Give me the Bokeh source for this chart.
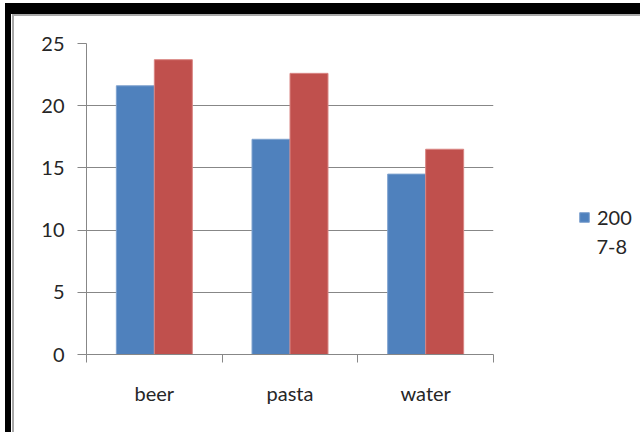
from bokeh.plotting import figure
from bokeh.models import FixedTicker, Legend, LegendItem, ColumnDataSource, Range1d, Label
from bokeh.layouts import column, row
from bokeh.embed import file_html
from bokeh.resources import INLINE

categories = ["beer", "pasta", "water"]
series_2007_8 = [21.6, 17.3, 14.5]
series_2 = [23.7, 22.6, 16.5]
legend_lines = ["200", "7-8"]
y_ticks = [0, 5, 10, 15, 20, 25]

FONT = "Lato"
TXT = "#262626"
GRID = "#878787"
BLUE = "#4F81BD"
RED = "#C0504D"

idx = list(range(len(categories)))
src = ColumnDataSource(dict(
    xb=[i + 0.36 for i in idx],
    xr=[i + 0.64 for i in idx],
    b=series_2007_8,
    r=series_2,
))

p = figure(width=484, height=416, output_backend="svg", toolbar_location=None,
           x_range=Range1d(0, len(categories)), y_range=Range1d(0, 25),
           min_border_left=72, min_border_top=27, min_border_right=5, min_border_bottom=78,
           background_fill_color="white", border_fill_color="white")
p.outline_line_color = None

rb = p.vbar(x="xb", top="b", width=0.28, source=src, fill_color=BLUE,
            line_color="#7fa2cf", line_width=1)
rr = p.vbar(x="xr", top="r", width=0.28, source=src, fill_color=RED,
            line_color="#d98583", line_width=1)

# y axis
p.yaxis.ticker = FixedTicker(ticks=y_ticks)
p.yaxis.axis_line_color = GRID
p.yaxis.major_tick_line_color = GRID
p.yaxis.major_tick_out = 9
p.yaxis.major_tick_in = 0
p.yaxis.minor_tick_line_color = None
p.yaxis.major_label_standoff = 13
p.yaxis.major_label_text_font = FONT
p.yaxis.major_label_text_font_size = "20px"
p.yaxis.major_label_text_color = TXT

# x axis
p.xaxis.ticker = FixedTicker(ticks=[i + 0.5 for i in idx], minor_ticks=list(range(len(categories) + 1)))
p.xaxis.major_label_overrides = {i + 0.5: c for i, c in zip(idx, categories)}
p.xaxis.axis_line_color = GRID
p.xaxis.major_tick_line_color = None
p.xaxis.minor_tick_line_color = GRID
p.xaxis.minor_tick_out = 8
p.xaxis.minor_tick_in = 0
p.xaxis.major_label_standoff = 18
p.xaxis.major_label_text_font = FONT
p.xaxis.major_label_text_font_size = "20px"
p.xaxis.major_label_text_color = TXT

p.xgrid.grid_line_color = None
p.ygrid.grid_line_color = GRID
p.ygrid.ticker = FixedTicker(ticks=y_ticks)

# legend panel (hidden copy of the blue series feeds the legend glyph)
p2 = figure(width=142, height=416, output_backend="svg", toolbar_location=None,
            x_axis_type=None, y_axis_type=None, x_range=Range1d(0, 1), y_range=Range1d(0, 1),
            min_border=0, background_fill_color="white", border_fill_color="white")
p2.outline_line_color = None
p2.xgrid.grid_line_color = None
p2.ygrid.grid_line_color = None
lg = p2.vbar(x="xb", top="b", width=0.28, source=src, fill_color=BLUE, line_color="#7fa2cf")
lg.visible = False

legend = Legend(items=[LegendItem(label=legend_lines[0], renderers=[lg])],
                location=(80, 125), padding=0, margin=0, border_line_color=None,
                background_fill_alpha=0, glyph_width=12, glyph_height=12, label_standoff=7,
                inactive_fill_alpha=0,
                label_text_font=FONT, label_text_font_size="20px", label_text_color=TXT)
p2.add_layout(legend, "center")
p2.add_layout(Label(text=legend_lines[1], x=98, y=115, x_units="screen", y_units="screen",
                    text_baseline="top", text_font=FONT, text_font_size="20px", text_color=TXT))

inner = row(p, p2, styles={"border-top": "2px solid #a8a8a8", "border-left": "2px solid #a8a8a8",
                           "margin-left": "1px"})
layout = column(inner, styles={"margin-left": "5px", "margin-top": "3px",
                               "border-top": "11px solid black", "border-left": "6px solid black"})

open("out.html", "w").write(file_html(layout, INLINE))
